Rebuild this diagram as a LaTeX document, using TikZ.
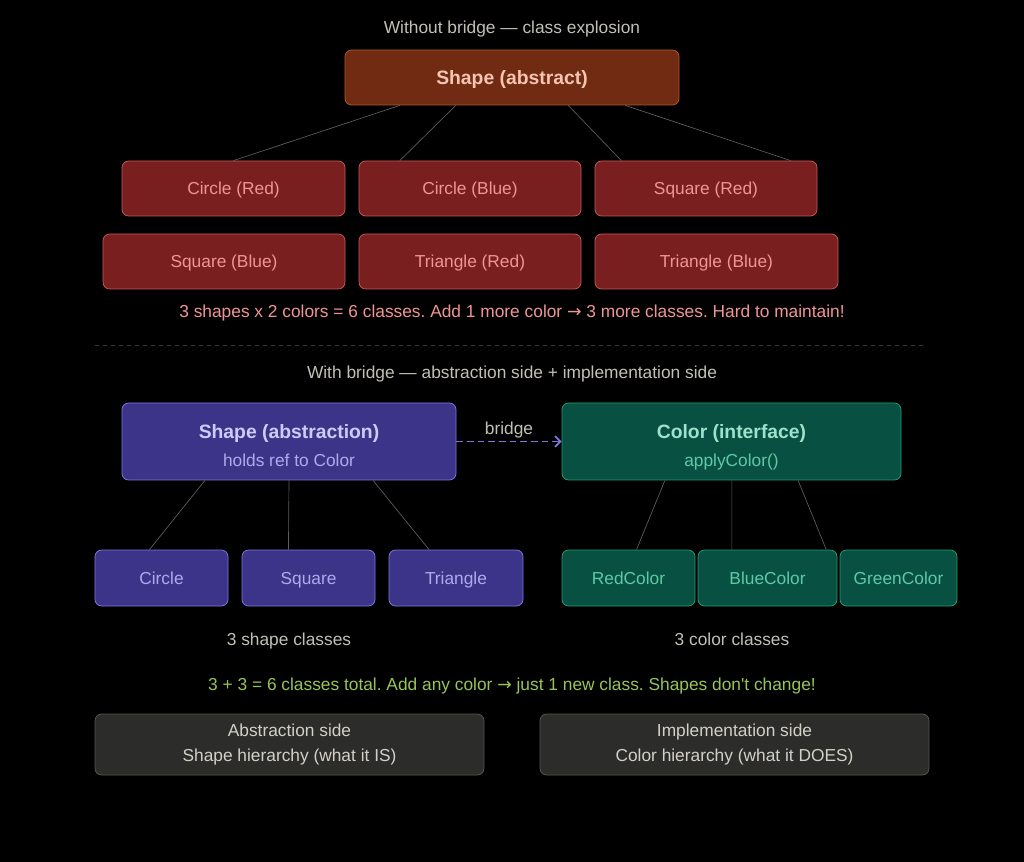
\documentclass[tikz,border=0pt]{standalone}
\usepackage{fontspec}
\setmainfont{Liberation Sans}
\newfontfamily\arrowfont{DejaVu Sans}
\newcommand{\rarrow}{{\arrowfont\fontsize{13}{15}\selectfont →}}
\frenchspacing
\usetikzlibrary{calc}
\usetikzlibrary{arrows.meta}
\definecolor{captiongray}{HTML}{C2C0B6}
\definecolor{linkgray}{HTML}{5F5E5A}
\definecolor{rustfill}{HTML}{712B13}
\definecolor{rustline}{HTML}{B5552F}
\definecolor{rusttext}{HTML}{F5C4B3}
\definecolor{redfill}{HTML}{791F1F}
\definecolor{redline}{HTML}{C45A58}
\definecolor{redtext}{HTML}{F09595}
\definecolor{purplefill}{HTML}{3C3489}
\definecolor{purpleline}{HTML}{7F77DD}
\definecolor{purpletext}{HTML}{CECBF6}
\definecolor{purplesub}{HTML}{AFA9EC}
\definecolor{greenfill}{HTML}{085041}
\definecolor{greenline}{HTML}{1D9E75}
\definecolor{greentext}{HTML}{9FE1CB}
\definecolor{greensub}{HTML}{5DCAA5}
\definecolor{notegreen}{HTML}{97C459}
\definecolor{sidefill}{HTML}{2C2C2A}
\definecolor{sidetext}{HTML}{D3D1C7}
\tikzset{
    box/.style={draw, rounded corners=5pt, line width=0.6pt, inner sep=0pt, align=center,
        font=\fontsize{13}{21}\selectfont},
    oneline/.style={text height=9.5pt, text depth=0pt},
    rustbox/.style={box, fill=rustfill, draw=rustline, text=rusttext, text height=10.6pt, text depth=0pt,
        minimum width=250.5pt, minimum height=41.25pt, font=\fontsize{14.5}{17}\selectfont\bfseries},
    redbox/.style={box, oneline, fill=redfill, draw=redline, text=redtext, minimum height=41.25pt},
    purplebox/.style={box, fill=purplefill, draw=purpleline, text=purpletext},
    greenbox/.style={box, fill=greenfill, draw=greenline, text=greentext},
    childbox/.style={oneline, minimum height=42pt},
    sidebox/.style={box, fill=sidefill, draw=sidefill!80!white, text=sidetext,
        minimum width=291.75pt, minimum height=45.75pt, font=\fontsize{13}{18.75}\selectfont},
    caption/.style={oneline, text=captiongray, font=\fontsize{13}{15}\selectfont},
    link/.style={draw=linkgray, line width=0.5pt},
    bridge/.style={draw=purpleline, line width=1.3pt, dash pattern=on 5pt off 3pt,
        -{Straight Barb[length=4pt, width=8pt]}},
}
\begin{document}
\begin{tikzpicture}[x=0.75pt, y=-0.75pt]
    \fill[black] (0,0) rectangle (1024,862);
    \useasboundingbox (0,0) rectangle (1024,862);

    % without bridge
    \node[caption] (title1) at (512,27) {Without bridge — class explosion};
    \node[rustbox] (absShape) at (512,77.5) {Shape (abstract)};
    \node[redbox, minimum width=167.25pt] (circRed) at (233.5,188.5) {Circle (Red)};
    \node[redbox, minimum width=166.5pt] (circBlue) at (470,188.5) {Circle (Blue)};
    \node[redbox, minimum width=166.5pt] (sqRed) at (706,188.5) {Square (Red)};
    \node[redbox, minimum width=181.5pt] (sqBlue) at (224,261.5) {Square (Blue)};
    \node[redbox, minimum width=166.5pt] (triRed) at (470,261.5) {Triangle (Red)};
    \node[redbox, minimum width=182.25pt] (triBlue) at (716.5,261.5) {Triangle (Blue)};
    \foreach \a/\n/\b in {0.165/circRed/0.5, 0.332/circBlue/0.185, 0.668/sqRed/0.12, 0.838/sqRed/0.88}
        \draw[link] ($(absShape.south west)!\a!(absShape.south east)$) -- ($(\n.north west)!\b!(\n.north east)$);
    \node[caption, text=redtext] (noteRed) at (512,311)
        {3 shapes x 2 colors = 6 classes. Add 1 more color \rarrow{} 3 more classes. Hard to maintain!};

    \draw[linkgray!60!black, dash pattern=on 3pt off 3pt] (95,345) -- (925,345);

    % with bridge
    \node[caption] (title2) at (512,372) {With bridge — abstraction side + implementation side};
    \node[purplebox, minimum width=250.5pt, minimum height=57.75pt] (shapeAbs) at (289,441.5)
        {\rule{0pt}{20.1pt}{\fontsize{14.5}{21}\selectfont\bfseries Shape (abstraction)}\\
         \textcolor{purplesub}{holds ref to Color}\rule[-3.5pt]{0pt}{3.5pt}};
    \node[greenbox, minimum width=254.25pt, minimum height=57.75pt] (colorIf) at (731.5,441.5)
        {\rule{0pt}{20.1pt}{\fontsize{14.5}{21}\selectfont\bfseries Color (interface)}\\
         \textcolor{greensub}{applyColor()}\rule[-3.5pt]{0pt}{3.5pt}};
    \draw[bridge] (shapeAbs.east) -- (colorIf.west)
        node[midway, above=1.5pt, caption] (bridgeLabel) {bridge};

    \node[purplebox, childbox, text=purplesub, minimum width=99.75pt] (circle) at (161.5,578) {Circle};
    \node[purplebox, childbox, text=purplesub, minimum width=99.75pt] (square) at (308.5,578) {Square};
    \node[purplebox, childbox, text=purplesub, minimum width=100.5pt] (triangle) at (456,578) {Triangle};
    \node[greenbox, childbox, text=greensub, minimum width=99.75pt] (redColor) at (628.5,578) {RedColor};
    \node[greenbox, childbox, text=greensub, minimum width=104.25pt] (blueColor) at (767.5,578) {BlueColor};
    \node[greenbox, childbox, text=greensub, minimum width=87.75pt] (greenColor) at (898.5,578) {GreenColor};
    \foreach \a/\n/\b in {0.249/circle/0.41, 0.5/square/0.35, 0.751/triangle/0.3}
        \draw[link] ($(shapeAbs.south west)!\a!(shapeAbs.south east)$) -- ($(\n.north west)!\b!(\n.north east)$);
    \foreach \a/\n/\b in {0.304/redColor/0.56, 0.501/blueColor/0.245, 0.696/blueColor/0.92}
        \draw[link] ($(colorIf.south west)!\a!(colorIf.south east)$) -- ($(\n.north west)!\b!(\n.north east)$);

    \node[caption] (shapeCount) at (289,639) {3 shape classes};
    \node[caption] (colorCount) at (732,639) {3 color classes};
    \node[caption, text=notegreen] (noteGreen) at (512,684)
        {3 + 3 = 6 classes total. Add any color \rarrow{} just 1 new class. Shapes don\textquotesingle t change!};

    \node[sidebox] (absSide) at (289.5,744.5) {Abstraction side\\ Shape hierarchy (what it IS)};
    \node[sidebox] (impSide) at (734.5,744.5) {Implementation side\\ Color hierarchy (what it DOES)};

\end{tikzpicture}
\end{document}
